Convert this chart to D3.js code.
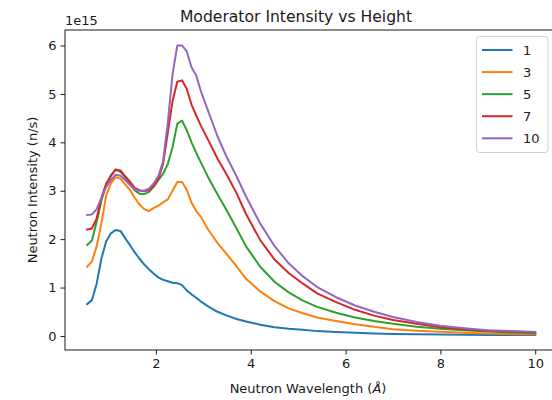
<!DOCTYPE html>
<html>
<head>
<meta charset="utf-8">
<script src="https://cdn.jsdelivr.net/npm/d3@7"></script>
<style>
  html, body { margin: 0; padding: 0; background: #fff; }
  svg { display: block; font-family: "DejaVu Sans", sans-serif; }
</style>
</head>
<body>
<svg id="chart" width="552" height="400"></svg>
<script>
// Wavelength grid (Å)
const wavelength = [0.55, 0.65, 0.75, 0.85, 0.95, 1.05, 1.15, 1.25, 1.35, 1.45, 1.55, 1.65, 1.75, 1.85, 1.95,
  2.05, 2.15, 2.25, 2.35, 2.45, 2.55, 2.65, 2.75, 2.85, 2.95, 3.1, 3.3, 3.5, 3.7, 3.9,
  4.2, 4.5, 4.8, 5.1, 5.4, 5.8, 6.2, 6.6, 7.0, 7.5, 8.0, 8.5, 9.0, 9.5, 10.0];

// Moderator heights (legend labels)
const heights = ["1", "3", "5", "7", "10"];

// Neutron intensity per height, in units of 1e15 n/s
const intensityH1 = [0.66, 0.74, 1.08, 1.60, 1.95, 2.12, 2.19, 2.17, 2.02, 1.88, 1.73, 1.60, 1.48, 1.38, 1.29,
  1.21, 1.16, 1.13, 1.10, 1.09, 1.05, 0.94, 0.86, 0.79, 0.71, 0.61, 0.50, 0.42, 0.35, 0.30,
  0.23, 0.18, 0.15, 0.13, 0.10, 0.08, 0.065, 0.05, 0.04, 0.035, 0.03, 0.025, 0.02, 0.02, 0.02];
const intensityH3 = [1.43, 1.54, 1.85, 2.33, 2.90, 3.15, 3.28, 3.25, 3.13, 3.02, 2.86, 2.72, 2.62, 2.58, 2.64,
  2.69, 2.76, 2.82, 3.00, 3.18, 3.18, 3.02, 2.75, 2.58, 2.46, 2.20, 1.92, 1.68, 1.44, 1.18,
  0.92, 0.72, 0.57, 0.47, 0.38, 0.31, 0.24, 0.19, 0.14, 0.11, 0.085, 0.065, 0.05, 0.04, 0.035];
const intensityH5 = [1.88, 1.97, 2.36, 2.80, 3.12, 3.32, 3.43, 3.39, 3.28, 3.15, 3.01, 2.94, 2.93, 2.97, 3.08,
  3.22, 3.35, 3.55, 3.90, 4.38, 4.45, 4.25, 4.00, 3.78, 3.58, 3.28, 2.92, 2.58, 2.22, 1.85,
  1.43, 1.12, 0.90, 0.73, 0.60, 0.48, 0.38, 0.31, 0.25, 0.19, 0.15, 0.12, 0.09, 0.07, 0.055];
const intensityH7 = [2.20, 2.22, 2.43, 2.85, 3.15, 3.30, 3.44, 3.42, 3.30, 3.19, 3.06, 3.01, 2.99, 3.01, 3.09,
  3.24, 3.55, 4.20, 4.85, 5.25, 5.28, 5.10, 4.78, 4.55, 4.34, 4.05, 3.66, 3.32, 2.95, 2.52,
  1.98, 1.58, 1.30, 1.08, 0.88, 0.70, 0.54, 0.42, 0.33, 0.25, 0.18, 0.14, 0.11, 0.09, 0.07];
const intensityH10 = [2.50, 2.51, 2.62, 2.85, 3.08, 3.22, 3.33, 3.31, 3.22, 3.12, 3.03, 3.00, 3.00, 3.04, 3.15,
  3.30, 3.60, 4.40, 5.40, 6.00, 6.00, 5.88, 5.55, 5.38, 5.05, 4.65, 4.12, 3.68, 3.30, 2.88,
  2.32, 1.86, 1.50, 1.23, 1.01, 0.80, 0.63, 0.50, 0.39, 0.29, 0.21, 0.16, 0.12, 0.10, 0.085];

const xTicks = [2, 4, 6, 8, 10];
const yTicks = [0, 1, 2, 3, 4, 5, 6];
const colors = ["#1f77b4", "#ff7f0e", "#2ca02c", "#d62728", "#9467bd"];

const seriesValues = [intensityH1, intensityH3, intensityH5, intensityH7, intensityH10];
const series = heights.map((h, i) => ({
  label: h,
  color: colors[i],
  points: wavelength.map((w, j) => ({ x: w, y: seriesValues[i][j] }))
}));

const svg = d3.select("#chart");
const plot = { left: 65, right: 558, top: 30, bottom: 350 };

const x = d3.scaleLinear().domain([0.082, 10.48]).range([plot.left, plot.right]);
const y = d3.scaleLinear().domain([-0.29, 6.32]).range([plot.bottom, plot.top]);

const textColor = "#1a1a1a";
const fontSize = 13;

// Lines
const line = d3.line().x(d => x(d.x)).y(d => y(d.y));
svg.append("g")
  .selectAll("path")
  .data(series)
  .join("path")
  .attr("d", d => line(d.points))
  .attr("fill", "none")
  .attr("stroke", d => d.color)
  .attr("stroke-width", 2)
  .attr("stroke-linejoin", "round")
  .attr("stroke-linecap", "square");

// Axes
const xAxis = d3.axisBottom(x).tickValues(xTicks).tickFormat(d3.format("d")).tickSizeInner(4.5).tickSizeOuter(0).tickPadding(4);
const yAxis = d3.axisLeft(y).tickValues(yTicks).tickFormat(d3.format("d")).tickSizeInner(4.5).tickSizeOuter(0).tickPadding(4);

const gx = svg.append("g").attr("transform", `translate(0,${plot.bottom})`).call(xAxis);
const gy = svg.append("g").attr("transform", `translate(${plot.left},0)`).call(yAxis);
[gx, gy].forEach(g => {
  g.select(".domain").remove();
  g.selectAll(".tick line").attr("stroke", textColor).attr("stroke-width", 1);
  g.selectAll(".tick text").attr("fill", textColor).attr("font-size", fontSize)
    .attr("font-family", "DejaVu Sans, sans-serif");
});

// Spines
svg.append("rect")
  .attr("x", plot.left).attr("y", plot.top)
  .attr("width", plot.right - plot.left).attr("height", plot.bottom - plot.top)
  .attr("fill", "none").attr("stroke", textColor).attr("stroke-width", 1);

// Offset text
svg.append("text").attr("x", plot.left).attr("y", 25)
  .attr("font-size", fontSize).attr("fill", textColor).text("1e15");

// Title
svg.append("text").attr("x", 296).attr("y", 21.5).attr("text-anchor", "middle")
  .attr("font-size", 15.6).attr("fill", textColor).text("Moderator Intensity vs Height");

// Axis labels
const xl = svg.append("text").attr("x", 308).attr("y", 392.5).attr("text-anchor", "middle")
  .attr("font-size", fontSize).attr("fill", textColor);
xl.append("tspan").text("Neutron Wavelength (");
xl.append("tspan").attr("font-style", "italic").text("Å");
xl.append("tspan").text(")");

svg.append("text")
  .attr("transform", `translate(37,${(plot.top + plot.bottom) / 2}) rotate(-90)`)
  .attr("text-anchor", "middle").attr("font-size", fontSize).attr("fill", textColor)
  .text("Neutron Intensity (n/s)");

// Legend
const legend = svg.append("g");
legend.append("rect")
  .attr("x", 476.5).attr("y", 36.5).attr("width", 71.5).attr("height", 116)
  .attr("rx", 3).attr("fill", "#fff").attr("fill-opacity", 0.8)
  .attr("stroke", "#d0d0d0").attr("stroke-width", 1);
const rowY = d3.scaleLinear().domain([0, 4]).range([50, 138.3]);
const rows = legend.selectAll("g.row").data(series).join("g").attr("class", "row")
  .attr("transform", (d, i) => `translate(0,${rowY(i)})`);
rows.append("line").attr("x1", 482).attr("x2", 512.5).attr("y1", 0).attr("y2", 0)
  .attr("stroke", d => d.color).attr("stroke-width", 2);
rows.append("text").attr("x", 523).attr("y", 4.6).attr("font-size", fontSize)
  .attr("fill", textColor).text(d => d.label);
</script>
</body>
</html>
